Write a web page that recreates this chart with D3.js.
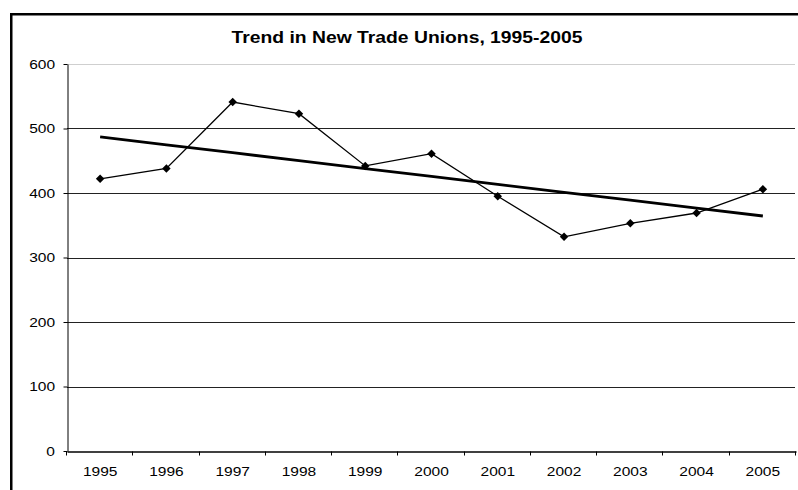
<!DOCTYPE html>
<html>
<head>
<meta charset="utf-8">
<script src="https://cdn.jsdelivr.net/npm/d3@7"></script>
<style>
  html, body { margin: 0; padding: 0; background: #fff; overflow: hidden; }
  svg { display: block; font-family: "Liberation Sans", Arial, sans-serif; }
  .tick text { font-size: 13.5px; fill: #000; }
</style>
</head>
<body>
<div id="chart"></div>
<script>
const years = ['1995', '1996', '1997', '1998', '1999', '2000', '2001', '2002', '2003', '2004', '2005'];
const unions = [422, 438, 541, 523, 442, 461, 395, 332, 353, 369, 406];
const yTicks = [0, 100, 200, 300, 400, 500, 600];
const title = 'Trend in New Trade Unions, 1995-2005';

const width = 798;
const height = 490;
const margin = { top: 64, right: 2, bottom: 39, left: 67 };
// the source picture is a little wider than tall, so text is stretched sideways
const stretch = 1.15;

const svg = d3.select('#chart').append('svg').attr('width', width).attr('height', height);

// outer chart frame: only its left and top edges fall inside the picture
svg.append('path')
  .attr('d', `M11.25,${height + 10}V14.25H${width + 10}`)
  .attr('fill', 'none').attr('stroke', '#000').attr('stroke-width', 2.5);

const x = d3.scaleBand().domain(years).range([margin.left, width - margin.right]).padding(0);
const y = d3.scaleLinear().domain([0, 600]).range([height - margin.bottom, margin.top]);
const cx = (d) => x(d) + x.bandwidth() / 2;

svg.append('text')
  .attr('transform', `translate(407,43) scale(${stretch},1)`)
  .attr('text-anchor', 'middle')
  .attr('font-weight', 'bold').attr('font-size', 16.8)
  .text(title);

// gridlines
svg.append('g')
  .selectAll('line')
  .data(yTicks.filter((t) => t > 0))
  .join('line')
  .attr('x1', margin.left).attr('x2', width - margin.right - 1)
  .attr('y1', (d) => Math.round(y(d)) + 0.5).attr('y2', (d) => Math.round(y(d)) + 0.5)
  .attr('stroke', (d) => (d === 600 ? '#cfcfcf' : '#222'))
  .attr('stroke-width', 1);

// y axis
svg.append('g')
  .attr('transform', `translate(${margin.left + 0.5},0)`)
  .call(d3.axisLeft(y).tickValues(yTicks).tickSize(4).tickPadding(8).tickSizeOuter(0))
  .call((g) => g.select('.domain').attr('stroke', '#000'))
  .call((g) => g.selectAll('.tick line').attr('stroke', '#000'))
  .call((g) => g.selectAll('.tick text')
    .attr('x', -12.5 / stretch)
    .attr('transform', `scale(${stretch},1)`));

// x axis: labels centered, ticks at category boundaries
const xAxis = svg.append('g')
  .attr('transform', `translate(0,${Math.round(y(0)) + 0.5})`)
  .call(d3.axisBottom(x).tickSize(0).tickPadding(15).tickSizeOuter(0))
  .call((g) => g.select('.domain').attr('stroke', '#000').attr('stroke-width', 1.5))
  .call((g) => g.selectAll('.tick text').attr('transform', `scale(${stretch},1)`));

const bounds = years.map((d) => x(d)).concat([x(years[years.length - 1]) + x.bandwidth()]);
xAxis.selectAll('line.bound')
  .data(bounds)
  .join('line')
  .attr('class', 'bound')
  .attr('x1', (d) => Math.round(d) - 0.5).attr('x2', (d) => Math.round(d) - 0.5)
  .attr('y1', 0).attr('y2', 4)
  .attr('stroke', '#000');

// linear trend (least squares over the series)
const idx = d3.range(unions.length);
const mx = d3.mean(idx);
const my = d3.mean(unions);
const slope = d3.sum(idx, (i) => (i - mx) * (unions[i] - my)) / d3.sum(idx, (i) => (i - mx) ** 2);
const trend = idx.map((i) => my + slope * (i - mx));

svg.append('path')
  .datum(trend)
  .attr('fill', 'none')
  .attr('stroke', '#000')
  .attr('stroke-width', 2.8)
  .attr('d', d3.line().x((_, i) => cx(years[i])).y((d) => y(d)));

// data series
svg.append('path')
  .datum(unions)
  .attr('fill', 'none')
  .attr('stroke', '#000')
  .attr('stroke-width', 1.3)
  .attr('d', d3.line().x((_, i) => cx(years[i])).y((d) => y(d)));

svg.append('g')
  .selectAll('path')
  .data(unions)
  .join('path')
  .attr('transform', (d, i) => `translate(${cx(years[i])},${y(d)})`)
  .attr('d', d3.symbol(d3.symbolDiamond2, 46))
  .attr('fill', '#000');
</script>
</body>
</html>
